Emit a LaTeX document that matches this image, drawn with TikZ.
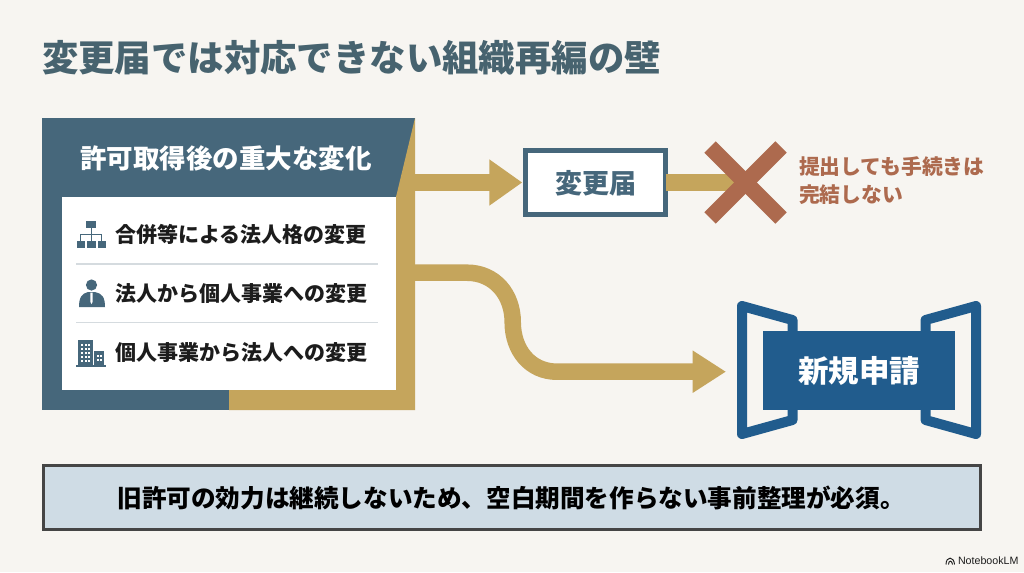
\documentclass[tikz,border=0pt]{standalone}
\usepackage{fontspec}
\usetikzlibrary{arrows.meta}
\setmainfont{Noto Sans CJK JP}
\newfontfamily\latinsans{Liberation Sans}
\newcommand{\px}[1]{\fontsize{\fpeval{#1*0.75}pt}{\fpeval{#1*0.9}pt}\selectfont\bfseries}
\definecolor{bgc}{HTML}{F7F5F1}
\definecolor{slate}{HTML}{46677B}
\definecolor{titlec}{HTML}{47636F}
\definecolor{gold}{HTML}{C5A55C}
\definecolor{rust}{HTML}{AD6A4E}
\definecolor{navy}{HTML}{215C8D}
\definecolor{pale}{HTML}{CFDCE5}
\definecolor{ink}{HTML}{1C1C1C}
\definecolor{rulec}{HTML}{D5DBDF}
\definecolor{boxedge}{HTML}{454545}
\tikzset{
  x=0.75pt,y=-0.75pt,
  txt/.style={inner sep=0pt,outer sep=0pt},
  itemtext/.style={txt,anchor=west,text=ink,font=\px{21}},
  band/.style={draw=gold,line width=12.4pt},
  sep/.style={draw=rulec,line width=0.9pt},
  bracket/.style={draw=navy,line width=7.5pt,line join=round},
  crossbar/.style={draw=rust,line width=12pt},
  iconfill/.style={fill=slate,draw=none},
  iconline/.style={draw=slate,line width=0.7pt},
}
\begin{document}
\begin{tikzpicture}
\fill[bgc] (0,0) rectangle (1024,572);
\useasboundingbox (0,0) rectangle (1024,572);
% title
\node[txt,anchor=west,text=titlec,font=\px{36.4}] (title) at (42,58) {変更届では対応できない組織再編の壁};
% panel
\node[fill=slate,inner sep=0pt,outer sep=0pt,minimum width=279.75pt,minimum height=219pt] (panel) at (228.5,264) {};
\fill[gold] (415,118) -- (415,410) -- (229,410) -- (229,390) -- (396,390) -- (396,197) -- cycle;
\node[fill=white,inner sep=0pt,outer sep=0pt,minimum width=250.5pt,minimum height=144.75pt] (list) at (229,293.5) {};
\node[txt,text=white,font=\px{26.5}] (head) at (226,158) {許可取得後の重大な変化};
% arrows
\node[fill=white,draw=slate,line width=3.6pt,inner sep=0pt,outer sep=0pt,minimum width=105pt,minimum height=48.5pt] (change) at (595.5,182.5) {};
\node[txt,text=slate,font=\px{27}] (changelabel) at (596,183) {変更届};
\coordinate (p1) at (panel.east |- change.west);
\draw[band,-{Triangle[length=24.75pt,width=33pt]}] (p1) -- ([xshift=-2.4pt]change.west);
\coordinate (p2) at (414,272.7);
\coordinate (stopx) at (745,182.5);
\draw[band] (change.east) -- (stopx);
\draw[crossbar] (710,147) -- (781,218);
\draw[crossbar] (781,147) -- (710,218);
\node[txt,anchor=west,text=rust,font=\px{20.8}] (warn1) at (799,167) {提出しても手続きは};
\node[txt,anchor=west,text=rust,font=\px{20.8}] (warn2) at (799,195) {完結しない};
% new application
\draw[bracket] (792.5,335) -- (792.5,320) -- (742,306) -- (742,434) -- (792.5,420) -- (792.5,405);
\draw[bracket] (925.5,335) -- (925.5,320) -- (976,306) -- (976,434) -- (925.5,420) -- (925.5,405);
\node[fill=navy,inner sep=0pt,outer sep=0pt,minimum width=144pt,minimum height=59.25pt] (newapp) at (859,370.5) {};
\node[txt,text=white,font=\px{30.5}] (newlabel) at (859,371) {新規申請};
\coordinate (n1) at (726,371.7);
\draw[band,-{Triangle[length=25pt,width=30pt]}] (p2) -- (467,272.7) .. controls (495,272.7) and (512.7,295) .. (512.7,322) .. controls (512.7,350) and (530,371.7) .. (557,371.7) -- (n1);
% list items
\draw[sep] (76,264) -- (378,264);
\draw[sep] (76,322.7) -- (378,322.7);
\node[itemtext] (i1) at (115,235) {合併等による法人格の変更};
\node[itemtext] (i2) at (115,294) {法人から個人事業への変更};
\node[itemtext] (i3) at (115,353) {個人事業から法人への変更};
% org icon
\fill[iconfill] (86,221) rectangle (96,227.5);
\fill[iconfill] (76.5,240.5) rectangle (85,248);
\fill[iconfill] (87,240.5) rectangle (95.5,248);
\fill[iconfill] (97.5,240.5) rectangle (106,248);
\draw[iconline] (91,227.5) -- (91,240.5) (80.5,240.5) -- (80.5,234) -- (101.5,234) -- (101.5,240.5);
% person icon
\fill[iconfill] (91.5,285) circle (4.2pt);
\fill[iconfill] (79,307) .. controls (79,297) and (82,293.5) .. (88,292) -- (95,292) .. controls (102,293.5) and (105,297) .. (105,307) -- cycle;
\fill[white] (90.5,292.5) -- (92.5,292.5) -- (92.6,302) -- (91.5,304) -- (90.4,302) -- cycle;
% building icon
\fill[iconfill] (77.5,340) rectangle (92.5,365);
\fill[iconfill] (94,351) rectangle (104,365);
\fill[iconfill] (76,364.5) rectangle (106,366.5);
\foreach \wx in {81,84.5,88}{\foreach \wy in {343.5,347.5,351.5,355.5,359.5}{\fill[white] (\wx,\wy) rectangle ++(2,2);}}
\foreach \wx in {96.5,100}{\foreach \wy in {354.5,358.5}{\fill[white] (\wx,\wy) rectangle ++(2,2);}}
% bottom box
\node[fill=pale,draw=boxedge,line width=2.2pt,inner sep=0pt,minimum width=702.5pt,minimum height=48.5pt] (note) at (512,497.5) {};
\node[txt,text=black,font=\px{24.6}] (notelabel) at (511,497.5) {旧許可の効力は継続しないため、空白期間を作らない事前整理が必須。};
% watermark
\node[txt,anchor=west,text=ink,font=\latinsans\fontsize{8pt}{9pt}\selectfont] (mark) at (958,561) {NotebookLM};
\draw[ink,line width=0.7pt] (946,564.5) .. controls (946,556) and (954,556) .. (954.5,564.5);
\draw[ink,line width=0.7pt] (948.5,564.5) .. controls (948.5,560) and (952,560) .. (952.5,564.5);
\end{tikzpicture}
\end{document}
